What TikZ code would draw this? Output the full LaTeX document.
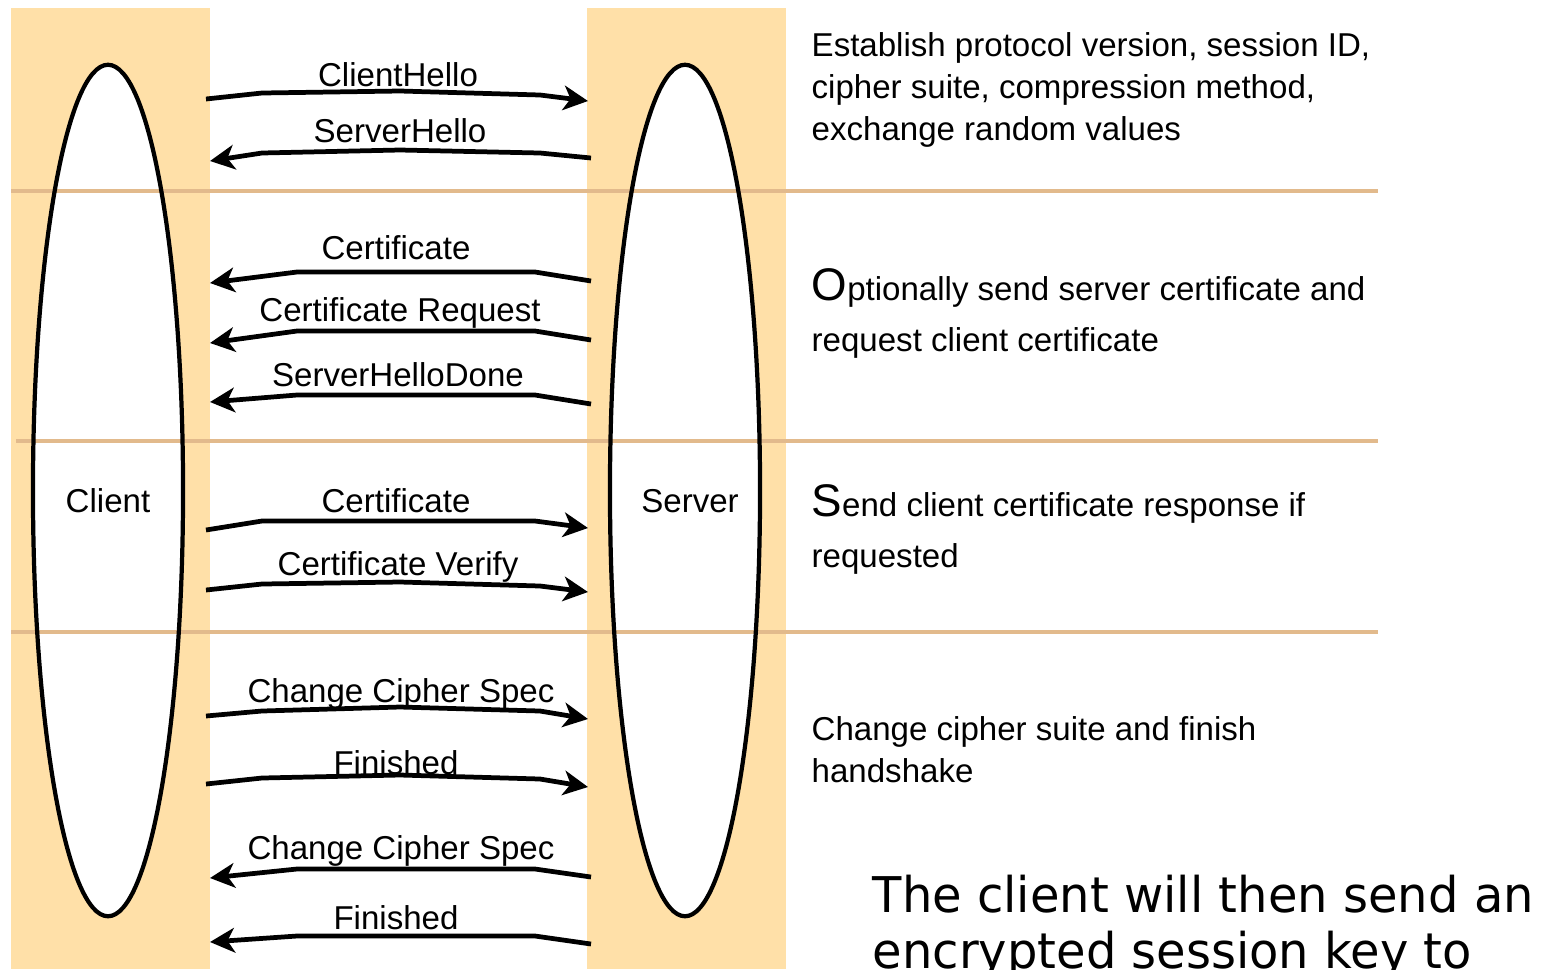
\documentclass[tikz,border=0pt]{standalone}
\usepackage{fontspec}
\setmainfont{Liberation Sans}
\newfontfamily\notefont{DejaVu Sans}
\usetikzlibrary{shapes.geometric,arrows.meta}

\definecolor{band}{RGB}{255,224,168}
\definecolor{rule}{RGB}{226,186,140}

\tikzset{
  band/.style={fill=band},
  party/.style={ellipse, fill=white, minimum width=1.5cm, minimum height=8.51cm,
    inner sep=0pt},
  ring/.style={ellipse, draw=black, line width=1.2pt, minimum width=1.5cm,
    minimum height=8.51cm, inner sep=0pt},
  partyname/.style={anchor=base, inner sep=0pt, font=\fontsize{9.4}{11}\selectfont},
  sep/.style={draw=rule, line width=1.1pt},
  msg/.style={draw=black, line width=1.35pt, line join=round,
    -{Stealth[length=7pt, width=7pt, inset=2pt]}},
  msglabel/.style={anchor=base, inner sep=0pt, font=\fontsize{9.4}{11}\selectfont},
  desc/.style={anchor=base west, inner sep=0pt, font=\fontsize{9.4}{11}\selectfont},
  note/.style={anchor=base west, inner sep=0pt, font=\notefont\fontsize{14}{16}\selectfont,
    xscale=0.975},
}
\newcommand{\bigletter}[1]{{\fontsize{13}{14}\selectfont #1}}

\begin{document}
\begin{tikzpicture}[x=0.01cm, y=-0.01cm]
\useasboundingbox (0,0) rectangle (1546,969);
\clip (0,0) rectangle (1546,969);

% columns behind the two parties
\fill[band] (11,8) rectangle (210,969);
\fill[band] (587,8) rectangle (786,969);

% the two parties
\node[party] (client) at (108,490.5) {};
\node[party] (server) at (685,490.5) {};
\node[partyname] (clientname) at (108,512) {Client};
\node[partyname] (servername) at (690,512) {Server};

% phase separators
\draw[sep] (11,191) -- (1378,191);
\draw[sep] (16,441) -- (1378,441);
\draw[sep] (11,632) -- (1378,632);

% outlines of the parties, above the separators
\node[ring] (clientring) at (client.center) {};
\node[ring] (serverring) at (server.center) {};

% end points of the messages
\coordinate (m1a) at (206,99);  \coordinate (m1b) at (588,101);
\coordinate (m2a) at (591,158); \coordinate (m2b) at (210,161);
\coordinate (m3a) at (591,281); \coordinate (m3b) at (210,283);
\coordinate (m4a) at (591,340); \coordinate (m4b) at (210,343);
\coordinate (m5a) at (591,404); \coordinate (m5b) at (210,402);
\coordinate (m6a) at (206,530); \coordinate (m6b) at (588,528);
\coordinate (m7a) at (206,590); \coordinate (m7b) at (588,592);
\coordinate (m8a) at (206,716); \coordinate (m8b) at (588,719);
\coordinate (m9a) at (206,784); \coordinate (m9b) at (588,787);
\coordinate (m10a) at (591,877); \coordinate (m10b) at (210,878);
\coordinate (m11a) at (591,944); \coordinate (m11b) at (210,942);

% hello phase
\draw[msg] (m1a) -- (262,93) -- (400,91) -- (540,95) -- (m1b);
\node[msglabel] (l1) at (398,86) {ClientHello};
\draw[msg] (m2a) -- (540,153) -- (400,150) -- (262,153) -- (m2b);
\node[msglabel] (l2) at (400,142) {ServerHello};

% server certificate phase
\draw[msg] (m3a) -- (535,272) -- (297,272) -- (m3b);
\node[msglabel] (l3) at (396,259) {Certificate};
\draw[msg] (m4a) -- (535,331) -- (297,331) -- (m4b);
\node[msglabel] (l4) at (400,321) {Certificate Request};
\draw[msg] (m5a) -- (535,395) -- (297,395) -- (m5b);
\node[msglabel] (l5) at (398,386) {ServerHelloDone};

% client certificate phase
\draw[msg] (m6a) -- (262,521) -- (535,521) -- (m6b);
\node[msglabel] (l6) at (396,512) {Certificate};
\draw[msg] (m7a) -- (262,584) -- (400,582) -- (540,586) -- (m7b);
\node[msglabel] (l7) at (398,575) {Certificate Verify};

% finish phase
\draw[msg] (m8a) -- (262,711) -- (400,707) -- (540,711) -- (m8b);
\node[msglabel] (l8) at (401,702) {Change Cipher Spec};
\draw[msg] (m9a) -- (262,778) -- (400,775) -- (540,779) -- (m9b);
\node[msglabel] (l9) at (396,774) {Finished};
\draw[msg] (m10a) -- (535,869) -- (297,869) -- (m10b);
\node[msglabel] (l10) at (401,859) {Change Cipher Spec};
\draw[msg] (m11a) -- (535,936) -- (297,936) -- (m11b);
\node[msglabel] (l11) at (396,929) {Finished};

% phase descriptions
\node[desc] (d1a) at (811,56) {Establish protocol version, session ID,};
\node[desc] (d1b) at (811,98) {cipher suite, compression method,};
\node[desc] (d1c) at (811,140) {exchange random values};
\node[desc] (d2a) at (811,300) {\bigletter{O}ptionally send server certificate and};
\node[desc] (d2b) at (811,351) {request client certificate};
\node[desc] (d3a) at (811,516) {\bigletter{S}end client certificate response if};
\node[desc] (d3b) at (811,567) {requested};
\node[desc] (d4a) at (811,740) {Change cipher suite and finish};
\node[desc] (d4b) at (811,782) {handshake};

% trailing note
\node[note] (n1) at (872,912) {The client will then send an};
\node[note] (n2) at (872,968) {encrypted session key to};
\end{tikzpicture}
\end{document}
